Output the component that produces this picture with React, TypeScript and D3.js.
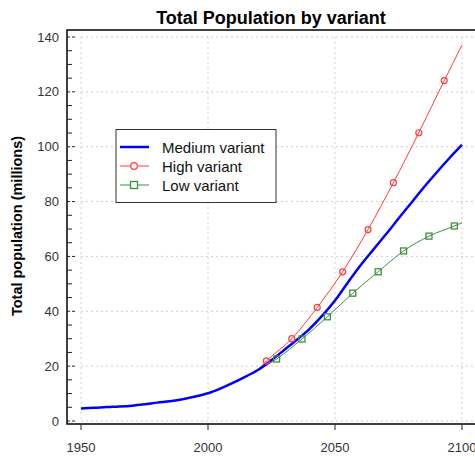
import * as d3 from "d3";

// Medium variant, 5-year steps
const mediumYears = d3.range(1950, 2101, 5);
const mediumValues = [
  4.6, 4.8, 5.1, 5.3, 5.6, 6.1, 6.7, 7.2, 7.9, 8.9, 10.1, 11.9, 14.0, 16.3, 18.8, 22.2, 25.9, 29.6, 33.6, 38.4,
  43.9, 50.4, 56.7, 62.4, 68.0, 73.8, 79.5, 85.2, 90.6, 95.8, 100.7,
];

const highYears = [2010, 2015, 2020, 2023, 2033, 2043, 2053, 2063, 2073, 2083, 2093, 2100];
const highValues = [14.0, 16.3, 19.0, 21.9, 30.0, 41.4, 54.4, 69.8, 86.9, 105.1, 124.1, 137.1];

const lowYears = [2010, 2015, 2020, 2027, 2037, 2047, 2057, 2067, 2077, 2087, 2097, 2100];
const lowValues = [14.0, 16.3, 18.7, 22.6, 29.9, 38.0, 46.6, 54.4, 62.0, 67.4, 71.1, 72.3];

const xTicks = [1950, 2000, 2050, 2100];
const yTicks = [0, 20, 40, 60, 80, 100, 120, 140];
const yMinorTicks = d3.range(0, 141, 5);

const font = "'Liberation Sans', Arial, sans-serif";

type Pt = { year: number; value: number };
const zip = (ys: number[], vs: number[]): Pt[] => ys.map((year, i) => ({ year, value: vs[i] }));

export default function App() {
  const width = 475;
  const height = 457;
  const box = { left: 67, top: 30, right: 480, bottom: 424 };

  const x = d3.scaleLinear().domain([1950, 2100]).range([81, 462]);
  const y = d3.scaleLinear().domain([0, 140]).range([421, 37]);

  const line = d3
    .line<Pt>()
    .x((d) => x(d.year))
    .y((d) => y(d.value))
    .curve(d3.curveMonotoneX);

  const medium = zip(mediumYears, mediumValues);
  const high = zip(highYears, highValues);
  const low = zip(lowYears, lowValues);
  const highMarks = high.filter((d) => d.year >= 2023 && d.year < 2100);
  const lowMarks = low.filter((d) => d.year >= 2027 && d.year < 2100);

  const red = "#ff3b3b";
  const green = "#3f8f3f";
  const blue = "#0000ff";

  const legend = [
    { label: "Medium variant", color: blue, w: 2.5, mark: "none" },
    { label: "High variant", color: red, w: 1, mark: "circle" },
    { label: "Low variant", color: green, w: 1, mark: "square" },
  ];

  return (
    <svg
      width={width}
      height={height}
      style={{ position: "absolute", left: 0, top: 0, background: "#fff" }}
      fontFamily={font}
    >
      <text x={271} y={24} textAnchor="middle" fontSize={18} fontWeight="bold" fill="#000">
        Total Population by variant
      </text>

      {/* grid */}
      {yTicks.map((t) => (
        <line key={`gy${t}`} x1={x(1950)} x2={box.right} y1={y(t)} y2={y(t)} stroke="#cfcfcf" strokeDasharray="2,3" />
      ))}
      {xTicks.map((t) => (
        <line key={`gx${t}`} x1={x(t)} x2={x(t)} y1={y(140)} y2={y(0)} stroke="#cfcfcf" strokeDasharray="2,3" />
      ))}

      {/* box */}
      <rect
        x={box.left}
        y={box.top}
        width={box.right - box.left}
        height={box.bottom - box.top}
        fill="none"
        stroke="#000"
        strokeWidth={1.5}
      />

      {/* y ticks */}
      {yMinorTicks
        .filter((t) => t % 20 !== 0)
        .map((t) => (
          <line key={`ym${t}`} x1={box.left} x2={box.left + 5} y1={y(t)} y2={y(t)} stroke="#222" />
        ))}
      {yTicks.map((t) => (
        <g key={`yt${t}`}>
          <line x1={box.left} x2={box.left + 8} y1={y(t)} y2={y(t)} stroke="#222" strokeDasharray="3,2" />
          <text x={59} y={y(t) + 4.5} textAnchor="end" fontSize={13} fill="#333">
            {t}
          </text>
        </g>
      ))}

      {/* x ticks */}
      {xTicks.map((t) => (
        <g key={`xt${t}`}>
          <line x1={x(t)} x2={x(t)} y1={box.bottom} y2={box.bottom + 6} stroke="#222" />
          <text x={x(t)} y={452} textAnchor="middle" fontSize={13} fill="#333">
            {t}
          </text>
        </g>
      ))}

      <text
        transform={`translate(22,226) rotate(-90)`}
        textAnchor="middle"
        fontSize={14.5}
        fontWeight="bold"
        fill="#000"
      >
        Total population (millions)
      </text>

      {/* series */}
      <path d={line(low) ?? ""} fill="none" stroke={green} strokeWidth={1} />
      <path d={line(high) ?? ""} fill="none" stroke={red} strokeWidth={1} />
      <path d={line(medium) ?? ""} fill="none" stroke={blue} strokeWidth={2.5} />
      {highMarks.map((d) => (
        <circle key={`hm${d.year}`} cx={x(d.year)} cy={y(d.value)} r={3} fill="none" stroke={red} strokeWidth={1.2} />
      ))}
      {lowMarks.map((d) => (
        <rect
          key={`lm${d.year}`}
          x={x(d.year) - 3}
          y={y(d.value) - 3}
          width={6}
          height={6}
          fill="none"
          stroke={green}
          strokeWidth={1.3}
        />
      ))}

      {/* legend */}
      <rect x={116} y={129.5} width={160} height={73} fill="#fff" stroke="#333" strokeWidth={1} />
      {legend.map((item, i) => {
        const ly = 147 + i * 19;
        return (
          <g key={item.label}>
            <line x1={120} x2={149} y1={ly} y2={ly} stroke={item.color} strokeWidth={item.w} />
            {item.mark === "circle" && (
              <circle cx={134} cy={ly} r={3.3} fill="#fff" stroke={item.color} strokeWidth={1.2} />
            )}
            {item.mark === "square" && (
              <rect x={130.5} y={ly - 3.5} width={7} height={7} fill="#fff" stroke={item.color} strokeWidth={1.3} />
            )}
            <text x={162} y={ly + 6} fontSize={15} fill="#111">
              {item.label}
            </text>
          </g>
        );
      })}
    </svg>
  );
}
